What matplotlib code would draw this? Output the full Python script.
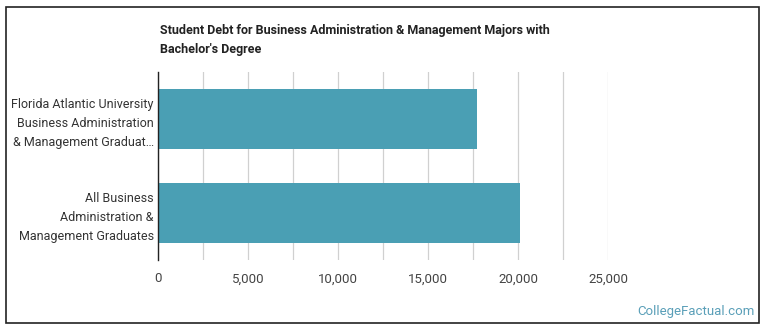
import matplotlib
matplotlib.use("Agg")
import matplotlib.pyplot as plt
from matplotlib.patches import Rectangle

plt.rcParams['font.family'] = ['Roboto', 'DejaVu Sans']

categories = ["Florida Atlantic University\nBusiness Administration\n& Management Graduat…",
              "All Business\nAdministration &\nManagement Graduates"]
values = [17720, 20110]
xticks = [0, 5000, 10000, 15000, 20000, 25000]
xtick_labels = ["0", "5,000", "10,000", "15,000", "20,000", "25,000"]
title = "Student Debt for Business Administration & Management Majors with\nBachelor's Degree"

fig = plt.figure(figsize=(7.7, 3.35), dpi=100)
fig.patch.set_facecolor('white')
ax = fig.add_axes([158/770, 1-260/335, 450/770, 188/335])

ypos = list(range(len(categories)))
ax.barh(ypos, values, height=0.64, color='#4a9fb4', zorder=3)
ax.set_ylim(len(categories)-0.5, -0.5)
ax.set_xlim(0, 25000)
ax.set_yticks(ypos)
ax.set_yticklabels(categories, fontsize=9, color='#333333', linespacing=1.6)
ax.set_xticks(xticks)
ax.set_xticklabels(xtick_labels, fontsize=9.5, color='#444444')
ax.set_xticks([2500*i for i in range(11)], minor=True)
ax.grid(axis='x', which='both', color='#d0d0d0', linewidth=0.9, zorder=0)
ax.tick_params(axis='both', which='both', length=0)
ax.tick_params(axis='x', pad=9)
ax.tick_params(axis='y', pad=3)
for s in ['top', 'right', 'bottom']:
    ax.spines[s].set_visible(False)
ax.spines['left'].set_color('#222222')
ax.spines['left'].set_linewidth(1.0)
ax.spines['left'].set_zorder(4)

fig.text(160/770, 1-24/335, title, fontsize=9, fontweight='bold', color='#222222',
         ha='left', va='top', linespacing=1.6)
fig.text(755/770, 1-312/335, "CollegeFactual.com", fontsize=9.5, color='#5a9fb8',
         ha='right', va='center')

fig.patches.append(Rectangle((6/770, 1-323/335), 753/770, 316/335, transform=fig.transFigure,
                             fill=False, edgecolor='#222222', linewidth=1.2))

fig.savefig('out.png', dpi=100)
